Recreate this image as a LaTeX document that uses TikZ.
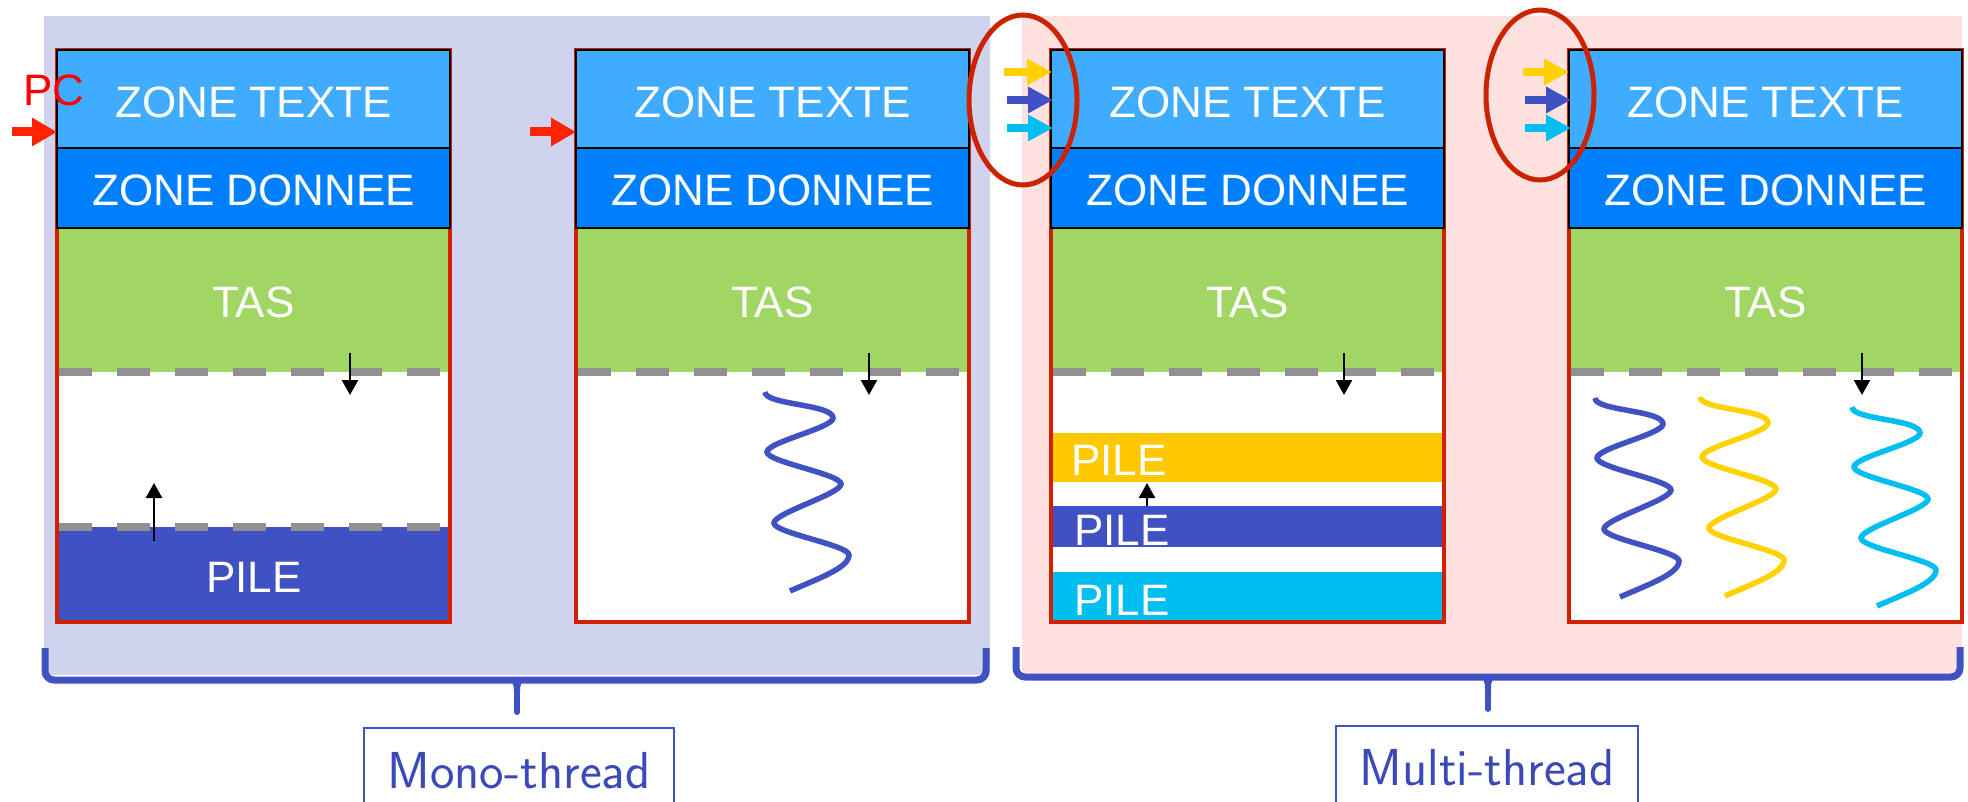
\documentclass[tikz,border=0pt]{standalone}
\usepackage{fontspec}
\newfontfamily\arialf{Liberation Sans}
\usetikzlibrary{arrows.meta}

\definecolor{lavbg}{HTML}{CFD3EE}
\definecolor{pinkbg}{HTML}{FFE2DF}
\definecolor{texteblue}{HTML}{40ACFF}
\definecolor{donneeblue}{HTML}{0080FF}
\definecolor{tasgreen}{HTML}{A1D664}
\definecolor{dashgray}{HTML}{919191}
\definecolor{navy}{HTML}{4051C4}
\definecolor{pileyellow}{HTML}{FFC800}
\definecolor{threadyellow}{HTML}{FFD200}
\definecolor{threadcyan}{HTML}{00BEF0}
\definecolor{boxred}{HTML}{D02000}
\definecolor{ringred}{HTML}{CC2200}
\definecolor{pcred}{HTML}{FF2200}
\definecolor{labelblue}{HTML}{3B49B9}

\tikzset{
  zonelabel/.style={text=white, font=\arialf\fontsize{44}{50}\selectfont, inner sep=0pt},
  pclabel/.style={text=red, font=\arialf\fontsize{44}{50}\selectfont, inner sep=0pt},
  boxframe/.style={draw=boxred, line width=4pt},
  zoneframe/.style={draw=black, line width=2pt},
  heapline/.style={draw=dashgray, line width=8pt, dash pattern=on 33pt off 25pt},
  growarrow/.style={draw=black, line width=2.5pt, -{Triangle[length=15pt,width=16pt]}},
  pcarrow/.style={draw=pcred, line width=9pt, -{Triangle[length=25pt,width=27pt]}},
  thrarrow/.style={line width=8pt, -{Triangle[length=25pt,width=25pt]}},
  thread/.style={line width=5.5pt},
  ring/.style={draw=ringred, line width=5pt},
  brace/.style={draw=navy, line width=7pt, rounded corners=9pt},
  modelabel/.style={draw=navy, line width=1.5pt, text=labelblue,
    font=\sffamily\fontsize{52}{58}\selectfont, inner sep=0pt},
}

% lower part of a memory column: blank area and heap
\newcommand\colbase[1]{%
  \fill[white] (#1,50) rectangle ++(393,572);
  \fill[tasgreen] (#1,228) rectangle ++(393,144);
}
% upper part of a memory column: heap limit, frame, text and data zones
\newcommand\coltop[2]{%
  \draw[heapline] (#1+2,372) -- ++(382,0);
  \draw[boxframe] (#1,50) rectangle ++(393,572);
  \draw[zoneframe, fill=texteblue] (#1,50) rectangle ++(393,98);
  \draw[zoneframe, fill=donneeblue] (#1,148) rectangle ++(393,80);
  \node[zonelabel] (#2-texte) at (#1+196.5,102.5) {ZONE TEXTE};
  \node[zonelabel] (#2-donnee) at (#1+196.5,190) {ZONE DONNEE};
  \node[zonelabel] (#2-tas) at (#1+196.5,302) {TAS};
  \coordinate (#2-heapa) at (#1+293,353);
  \coordinate (#2-heapb) at (#1+293,395);
  \draw[growarrow] (#2-heapa) -- (#2-heapb);
}
% a thread drawn as a wavy line starting at (#2,#3)
\newcommand\threadwave[3]{%
  \begin{scope}[shift={(#2,#3)}]
    \draw[thread, draw=#1] (0,0) .. controls (0,13) and (68,12) .. (68,26)
      .. controls (68,36) and (2,50) .. (2,60)
      .. controls (2,70) and (76,82) .. (76,92)
      .. controls (76,102) and (9,121) .. (9,131)
      .. controls (9,141) and (84,153) .. (84,163)
      .. controls (84,176) and (52,187) .. (25,199);
  \end{scope}
}

\begin{document}
\begin{tikzpicture}[x=1pt, y=-1pt]
\useasboundingbox (0,0) rectangle (1968,802);

% group backgrounds
\fill[lavbg] (44,16) rectangle (990,675);
\fill[pinkbg] (1022,16) rectangle (1962,675);

% ---- mono-thread process, stack view ----
\colbase{57}
\fill[navy] (57,527) rectangle (450,622);
\node[zonelabel] (m1-pile) at (254,577) {PILE};
\draw[heapline] (59,527) -- ++(382,0);
\coordinate (m1-stacka) at (154,541);
\coordinate (m1-stackb) at (154,483);
\draw[growarrow] (m1-stacka) -- (m1-stackb);
\coltop{57}{m1}
\node[pclabel] (pc) at (54,90) {PC};
\coordinate (pc-start) at (12,132);
\coordinate (pc-end) at (57,132);
\draw[pcarrow] (pc-start) -- (pc-end);

% ---- mono-thread process, thread view ----
\colbase{576}
\threadwave{navy}{765}{392}
\coltop{576}{m2}
\coordinate (m2-pca) at (530,132);
\coordinate (m2-pcb) at (576,132);
\draw[pcarrow] (m2-pca) -- (m2-pcb);

% ---- multi-thread process, stack view ----
\colbase{1051}
\fill[pileyellow] (1051,433) rectangle (1443,482);
\fill[navy] (1053,506) rectangle (1443,547);
\fill[threadcyan] (1053,572) rectangle (1443,622);
\node[zonelabel, anchor=west] (t1-pile1) at (1071,460) {PILE};
\node[zonelabel, anchor=west] (t1-pile2) at (1074,530) {PILE};
\node[zonelabel, anchor=west] (t1-pile3) at (1074,600) {PILE};
\coordinate (t1-stacka) at (1147,506);
\coordinate (t1-stackb) at (1147,483);
\draw[growarrow] (t1-stacka) -- (t1-stackb);
\coltop{1051}{t1}
\coordinate (t1-ya) at (1004,72);
\coordinate (t1-yb) at (1052,72);
\coordinate (t1-na) at (1007,100);
\coordinate (t1-nb) at (1053,100);
\coordinate (t1-ca) at (1007,128);
\coordinate (t1-cb) at (1053,128);
\draw[thrarrow, draw=threadyellow] (t1-ya) -- (t1-yb);
\draw[thrarrow, draw=navy] (t1-na) -- (t1-nb);
\draw[thrarrow, draw=threadcyan] (t1-ca) -- (t1-cb);
\draw[ring] (1023,100) ellipse [x radius=54pt, y radius=85pt];

% ---- multi-thread process, thread view ----
\colbase{1569}
\threadwave{navy}{1595}{398}
\threadwave{threadyellow}{1700}{397}
\threadwave{threadcyan}{1852}{407}
\coltop{1569}{t2}
\coordinate (t2-ya) at (1523,72);
\coordinate (t2-yb) at (1569,72);
\coordinate (t2-na) at (1525,100);
\coordinate (t2-nb) at (1571,100);
\coordinate (t2-ca) at (1525,128);
\coordinate (t2-cb) at (1571,128);
\draw[thrarrow, draw=threadyellow] (t2-ya) -- (t2-yb);
\draw[thrarrow, draw=navy] (t2-na) -- (t2-nb);
\draw[thrarrow, draw=threadcyan] (t2-ca) -- (t2-cb);
\draw[ring] (1540,95) ellipse [x radius=54pt, y radius=85pt];

% ---- braces ----
\draw[brace] (45,648) -- (45,680) -- (986,680) -- (986,648);
\draw[navy, line width=6pt, line cap=round] (517,684) -- (517,712);
\fill[navy] (505,680) .. controls (513,680) and (514,684) .. (514,692) -- (520,692)
  .. controls (520,684) and (521,680) .. (529,680) -- cycle;
\draw[brace] (1016,647) -- (1016,677) -- (1960,677) -- (1960,647);
\draw[navy, line width=6pt, line cap=round] (1488,681) -- (1488,709);
\fill[navy] (1476,677) .. controls (1484,677) and (1485,681) .. (1485,689) -- (1491,689)
  .. controls (1491,681) and (1492,677) .. (1500,677) -- cycle;

% ---- group labels ----
\node[modelabel, minimum width=310pt, minimum height=85pt] (mono) at (519,770.5) {Mono-thread};
\node[modelabel, minimum width=302pt, minimum height=84pt] (multi) at (1487,768) {Multi-thread};
\end{tikzpicture}
\end{document}
